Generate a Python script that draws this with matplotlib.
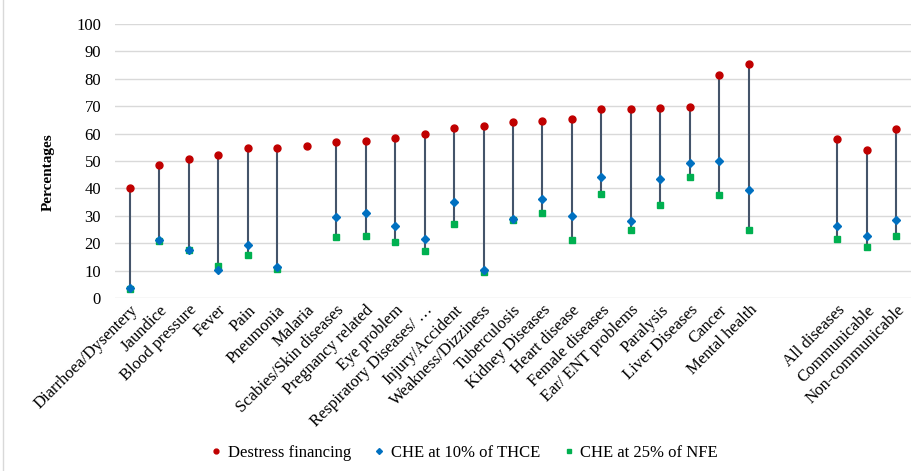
import numpy as np
import matplotlib.pyplot as plt
from matplotlib.lines import Line2D

plt.rcParams['font.family'] = ['Liberation Serif', 'DejaVu Serif']

diseases = ["Diarrhoea/Dysentery", "Jaundice", "Blood pressure", "Fever", "Pain",
            "Pneumonia", "Malaria", "Scabies/Skin diseases", "Pregnancy related",
            "Eye problem", "Respiratory Diseases/ \u2026", "Injury/Accident",
            "Weakness/Dizziness", "Tuberculosis", "Kidney Diseases", "Heart disease",
            "Female diseases", "Ear/ ENT problems", "Paralysis", "Liver Diseases",
            "Cancer", "Mental health"]
groups = ["All diseases", "Communicable", "Non-communicable"]

distress = [40.0, 48.4, 50.9, 52.1, 54.7, 54.9, 55.5, 57.0, 57.2, 58.4, 59.7, 62.0,
            62.9, 64.3, 64.5, 65.5, 68.8, 68.8, 69.3, 69.7, 81.3, 85.5,
            58.0, 53.9, 61.5]
che10 = [3.5, 21.0, 17.6, 10.4, 19.3, 11.3, np.nan, 29.6, 30.9, 26.4, 21.5, 34.9,
         10.3, 28.8, 36.3, 30.1, 44.1, 28.1, 43.6, 49.2, 49.9, 39.4,
         26.1, 22.6, 28.6]
che25 = [3.4, 20.8, 17.5, 11.5, 15.6, 10.6, np.nan, 22.1, 22.8, 20.3, 17.3, 26.9,
         9.5, 28.6, 31.1, 21.3, 37.8, 25.0, 34.0, 44.3, 37.5, 25.0,
         21.5, 18.6, 22.8]

labels = diseases + groups
# two empty slots between the diseases and the summary groups
x = list(range(len(diseases))) + [len(diseases) + 2 + i for i in range(len(groups))]

red = "#C00000"
blue = "#0070C0"
green = "#00B050"

fig = plt.figure(figsize=(9.11, 4.71), dpi=100)
ax = fig.add_axes([115 / 911, 1 - 298 / 471, 796 / 911, 274 / 471])

for xi, d, b, g in zip(x, distress, che10, che25):
    if np.isnan(b) and np.isnan(g):
        continue
    low = np.nanmin([b, g])
    ax.plot([xi, xi], [low, d], color="#44546A", lw=1.5, zorder=2)

ax.plot(x, che25, ls="none", marker="s", ms=4.5, color=green, zorder=3)
ax.plot(x, che10, ls="none", marker="D", ms=4, color=blue, zorder=4)
ax.plot(x, distress, ls="none", marker="o", ms=5, color=red, zorder=5)

ax.set_xlim(-0.5, 26.5)
ax.set_ylim(0, 100)
ax.set_yticks(range(0, 101, 10))
ax.yaxis.grid(True, color="#D9D9D9", lw=1)
ax.set_axisbelow(True)
for s in ax.spines.values():
    s.set_visible(False)
ax.tick_params(axis="both", length=0, labelsize=12)
ax.tick_params(axis="y", pad=10)
ax.tick_params(axis="x", pad=3)
ax.set_xticks(x)
ax.set_xticklabels(labels, rotation=45, ha="right", rotation_mode="anchor")
ax.set_ylabel("Percentages", fontweight="bold", fontsize=11)
ax.yaxis.set_label_coords(-60 / 796, 0.46)

handles = [
    Line2D([], [], ls="none", marker="o", ms=3.5, color=red, label="Destress financing"),
    Line2D([], [], ls="none", marker="D", ms=3, color=blue, label="CHE at 10% of THCE"),
    Line2D([], [], ls="none", marker="s", ms=3.5, color=green, label="CHE at 25% of NFE"),
]
fig.legend(handles=handles, loc="center", bbox_to_anchor=(0.51, 1 - 453 / 471), ncol=3,
           frameon=False, fontsize=12, handlelength=0.6, handletextpad=0.4,
           columnspacing=1.4)

fig.add_artist(Line2D([3 / 911, 3 / 911], [0, 1], color="#D9D9D9", lw=1))

fig.savefig("out.png", dpi=100)
